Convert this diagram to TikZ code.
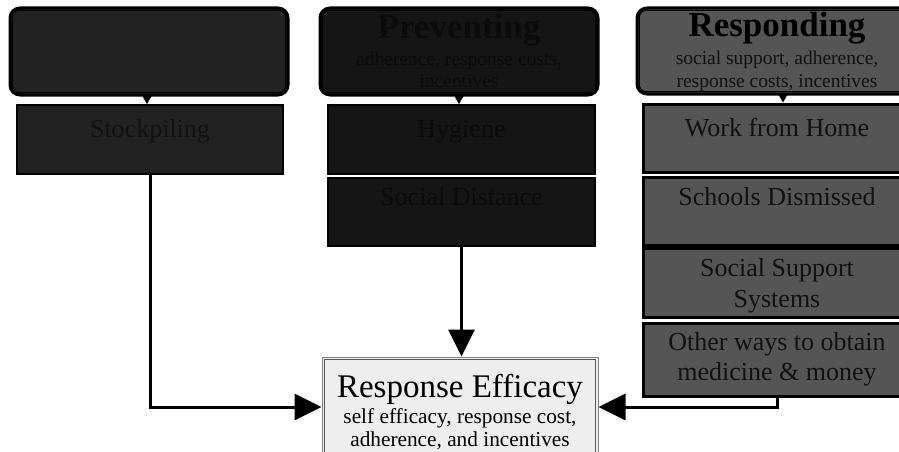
\documentclass[tikz,border=0pt]{standalone}
\usepackage{fontspec}
\setmainfont{Liberation Serif}
\usetikzlibrary{arrows.meta}
\definecolor{lfill}{HTML}{222222}
\definecolor{mfill}{HTML}{151515}
\definecolor{rfill}{HTML}{555555}
\definecolor{ltext}{HTML}{121212}
\definecolor{mtext}{HTML}{0B0B0B}
\definecolor{rtext}{HTML}{111111}
\definecolor{efill}{HTML}{EEEEEE}
\tikzset{
  x=1pt, y=-1pt,
  header/.style={draw=black, line width=3pt, rounded corners=10pt, inner sep=0pt},
  itembox/.style={draw=black, line width=2pt, inner sep=0pt},
  ritembox/.style={draw=black, line width=3pt, inner sep=0pt},
  lbl/.style={anchor=base, inner sep=0pt, font=\fontsize{26}{30}\selectfont},
  htitle/.style={anchor=base, inner sep=0pt, font=\fontsize{35}{38}\selectfont\bfseries},
  hsub/.style={anchor=base, inner sep=0pt, font=\fontsize{19.5}{21}\selectfont},
  conn/.style={draw=black, line width=3pt, -{Triangle[length=27pt,width=26pt]}},
  small/.style={draw=black, line width=1pt, -{Triangle[length=9pt,width=10pt]}},
}
\newcommand{\innerring}[1]{\draw[line width=1.1pt, draw=black, rounded corners=7pt] ([shift={(3.8pt,-3.8pt)}]#1.north west) rectangle ([shift={(-3.8pt,3.8pt)}]#1.south east);}
\begin{document}
\begin{tikzpicture}
\useasboundingbox (0,0) rectangle (899,452);
\clip (0,0) rectangle (899,452);
\fill[white] (0,0) rectangle (899,452);

% left column
\node[header, fill=lfill, minimum width=278pt, minimum height=87pt] (lh) at (149,51.5) {};
\innerring{lh}
\node[itembox, fill=lfill, minimum width=266pt, minimum height=69pt] (stock) at (150,139.5) {};
\node[lbl, text=ltext] (tstock) at (150,137) {Stockpiling};

% middle column
\node[header, fill=mfill, minimum width=278pt, minimum height=87pt] (mh) at (459,51.5) {};
\innerring{mh}
\node[htitle, text=mtext] (tmh) at (459,39) {Preventing};
\node[hsub, text=mtext] (tmh1) at (459,66) {adherence, response costs,};
\node[hsub, text=mtext] (tmh2) at (459,87) {incentives};
\node[itembox, fill=mfill, minimum width=267pt, minimum height=69pt] (hyg) at (461.5,139.5) {};
\node[lbl, text=mtext] (thyg) at (461.5,137) {Hygiene};
\node[itembox, fill=mfill, minimum width=267pt, minimum height=68pt] (sd) at (461.5,212) {};
\node[lbl, text=mtext] (tsd) at (461.5,205) {Social Distance};

% right column
\node[header, fill=rfill, minimum width=280pt, minimum height=86pt] (rh) at (777,51) {};
\innerring{rh}
\node[htitle, text=black] (trh) at (777,37) {Responding};
\node[hsub, text=rtext] (trh1) at (777,65) {social support, adherence,};
\node[hsub, text=rtext] (trh2) at (777,87) {response costs, incentives};
\node[ritembox, fill=rfill, minimum width=268pt, minimum height=68pt] (wfh) at (777,138) {};
\node[lbl, text=rtext] (twfh) at (777,136) {Work from Home};
\node[ritembox, fill=rfill, minimum width=268pt, minimum height=68pt] (sch) at (777,211) {};
\node[lbl, text=rtext] (tsch) at (777,205) {Schools Dismissed};
\node[ritembox, fill=rfill, minimum width=268pt, minimum height=69pt] (sss) at (777,282.5) {};
\node[lbl, text=rtext] (tsss1) at (777,276) {Social Support};
\node[lbl, text=rtext] (tsss2) at (777,307) {Systems};
\node[ritembox, fill=rfill, minimum width=268pt, minimum height=73pt] (oth) at (777,359.5) {};
\node[lbl, text=rtext] (toth1) at (777,350) {Other ways to obtain};
\node[lbl, text=rtext] (toth2) at (777,380) {medicine \& money};

% response efficacy
\node[draw=gray, line width=1pt, fill=efill, minimum width=276pt, minimum height=110pt, inner sep=0pt] (resp) at (460,412) {};
\draw[draw=black!65, line width=1.5pt] ([shift={(3pt,-3pt)}]resp.north west) rectangle ([shift={(-3pt,3pt)}]resp.south east);
\node[anchor=base, inner sep=0pt, font=\fontsize{33}{36}\selectfont] (tresp) at (460,397) {Response Efficacy};
\node[anchor=base, inner sep=0pt, font=\fontsize{21.3}{24}\selectfont] (tresp1) at (460,423) {self efficacy, response cost,};
\node[anchor=base, inner sep=0pt, font=\fontsize{21.3}{24}\selectfont] (tresp2) at (460,446) {adherence, and incentives};

% connectors
\coordinate (lx) at (147,0);
\coordinate (mx) at (459,0);
\coordinate (rx) at (783,0);
\coordinate (ya) at (0,407);
\draw[small] (lh.south -| lx) -- (stock.north -| lx);
\draw[small] (mh.south -| mx) -- (hyg.north -| mx);
\draw[small] (rh.south -| rx) -- (wfh.north -| rx);
\draw[conn] (stock.south) |- (resp.west |- ya);
\draw[conn] (sd.south) -- (sd.south |- resp.north);
\draw[conn] (oth.south) |- (resp.east |- ya);
\end{tikzpicture}
\end{document}
